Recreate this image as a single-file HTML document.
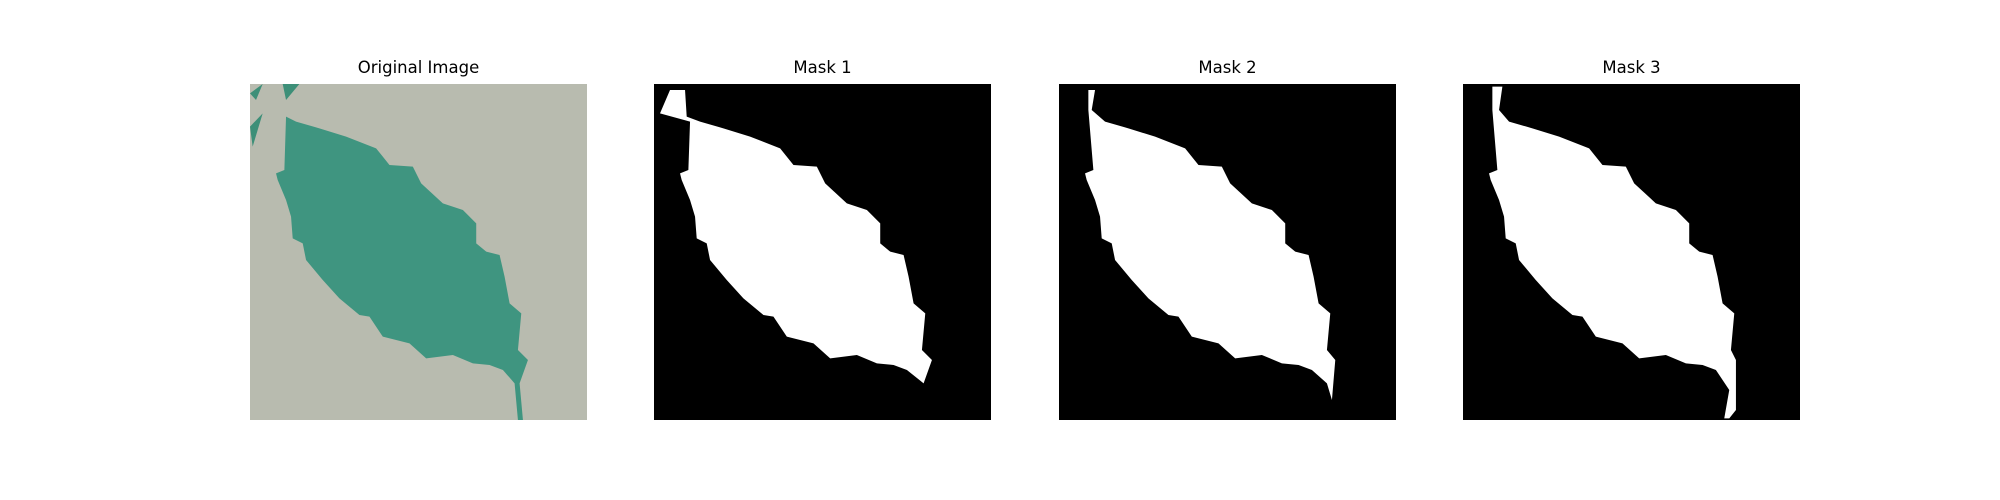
<!DOCTYPE html>
<html><head><meta charset="utf-8"><style>
body{margin:0;background:#fff;width:2000px;height:500px;overflow:hidden;position:relative;font-family:"Liberation Sans","DejaVu Sans",sans-serif}
.t{position:absolute;top:58px;width:337px;text-align:center;font-family:"DejaVu Sans","Liberation Sans",sans-serif;font-size:16.5px;color:#000}
svg{position:absolute;top:84px;width:337px;height:336px}
</style></head><body>
<div class="t" style="left:250px">Original Image</div>
<div class="t" style="left:654px">Mask 1</div>
<div class="t" style="left:1059px">Mask 2</div>
<div class="t" style="left:1463px">Mask 3</div>

<svg style="left:250px" viewBox="42 102 1010 1008" preserveAspectRatio="none">
<rect x="42" y="102" width="1010" height="1008" fill="#b8bbaf"/>
<path d="M42 130 L80 102 L60 150Z M140 102 L190 102 L150 150Z M42 230 L80 190 L50 290Z" fill="#3d8f78"/>
<path d="M150 200 L180 215 L250 235 L330 260 L420 295 L460 345 L530 350 L555 400 L620 460 L680 480 L720 520 L720 580 L750 605 L790 615 L805 680 L820 760 L855 790 L845 900 L875 930 L850 1000 L860 1110 L845 1110 L835 1000 L800 960 L760 945 L710 940 L650 915 L570 925 L520 880 L440 860 L400 800 L370 795 L310 745 L260 690 L210 630 L200 580 L170 565 L165 500 L150 450 L125 390 L120 370 L145 360 Z" fill="#3f9580"/>
</svg>

<svg style="left:654px" viewBox="42 102 1010 1008" preserveAspectRatio="none">
<rect x="42" y="102" width="1010" height="1008" fill="#000"/>
<path d="M60 190 L90 120 L135 120 L140 200 L180 215 L250 235 L330 260 L420 295 L460 345 L530 350 L555 400 L620 460 L680 480 L720 520 L720 580 L750 605 L790 615 L805 680 L820 760 L855 790 L845 900 L875 930 L850 1000 L800 960 L760 945 L710 940 L650 915 L570 925 L520 880 L440 860 L400 800 L370 795 L310 745 L260 690 L210 630 L200 580 L170 565 L165 500 L150 450 L125 390 L120 370 L145 360 L150 215 Z" fill="#fff"/>
</svg>

<svg style="left:1059px" viewBox="42 102 1010 1008" preserveAspectRatio="none">
<rect x="42" y="102" width="1010" height="1008" fill="#000"/>
<path d="M130 120 L150 120 L140 180 L180 215 L250 235 L330 260 L420 295 L460 345 L530 350 L555 400 L620 460 L680 480 L720 520 L720 580 L750 605 L790 615 L805 680 L820 760 L855 790 L845 900 L870 930 L860 1050 L845 1000 L800 960 L760 945 L710 940 L650 915 L570 925 L520 880 L440 860 L400 800 L370 795 L310 745 L260 690 L210 630 L200 580 L170 565 L165 500 L150 450 L125 390 L120 370 L145 360 L130 180 Z" fill="#fff"/>
</svg>

<svg style="left:1463px" viewBox="42 102 1010 1008" preserveAspectRatio="none">
<rect x="42" y="102" width="1010" height="1008" fill="#000"/>
<path d="M130 110 L160 110 L150 180 L180 215 L250 235 L330 260 L420 295 L460 345 L530 350 L555 400 L620 460 L680 480 L720 520 L720 580 L750 605 L790 615 L805 680 L820 760 L855 790 L845 900 L860 930 L860 1080 L840 1105 L825 1105 L840 1020 L800 960 L760 945 L710 940 L650 915 L570 925 L520 880 L440 860 L400 800 L370 795 L310 745 L260 690 L210 630 L200 580 L170 565 L165 500 L150 450 L125 390 L120 370 L145 360 L130 180 Z" fill="#fff"/>
</svg>
</body></html>
